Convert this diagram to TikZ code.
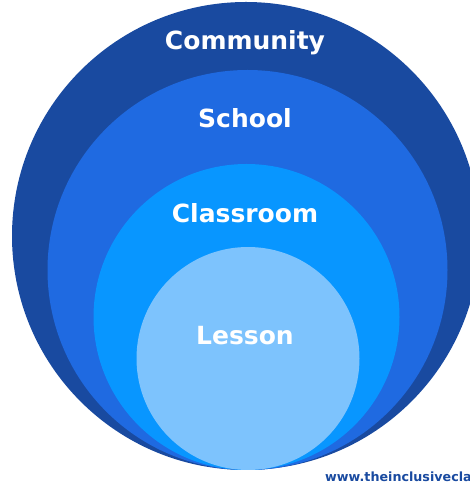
\documentclass[tikz,border=0pt]{standalone}
\usepackage{fontspec}
\setmainfont{DejaVu Sans}
\definecolor{communityblue}{RGB}{25,74,160}
\definecolor{schoolblue}{RGB}{31,106,225}
\definecolor{classblue}{RGB}{8,150,255}
\definecolor{lessonblue}{RGB}{125,195,253}
\begin{document}
\begin{tikzpicture}[x=1pt, y=1pt]
		\clip (0, 0) rectangle (470, 490);

		\fill[color=communityblue] (246, 254) circle (234);
		\fill[color=schoolblue] (247.5, 220) circle (200);
		\fill[color=classblue] (246.5, 173) circle (153);
		\fill[color=lessonblue] (248, 131.5) circle (111.5);

		\node[text=white, font=\fontsize{25}{30}\selectfont\bfseries] (community) at (245, 447) {Community};
		\node[text=white, font=\fontsize{25}{30}\selectfont\bfseries] (school) at (245, 372) {School};
		\node[text=white, font=\fontsize{25}{30}\selectfont\bfseries] (classroom) at (245, 277) {Classroom};
		\node[text=white, font=\fontsize{25}{30}\selectfont\bfseries] (lesson) at (245, 154) {Lesson};
		\node[text=communityblue, anchor=west, inner sep=0pt, font=\fontsize{12.7}{15}\selectfont\bfseries] (site) at (325, 13) {www.theinclusivecla};
	\end{tikzpicture}
\end{document}
